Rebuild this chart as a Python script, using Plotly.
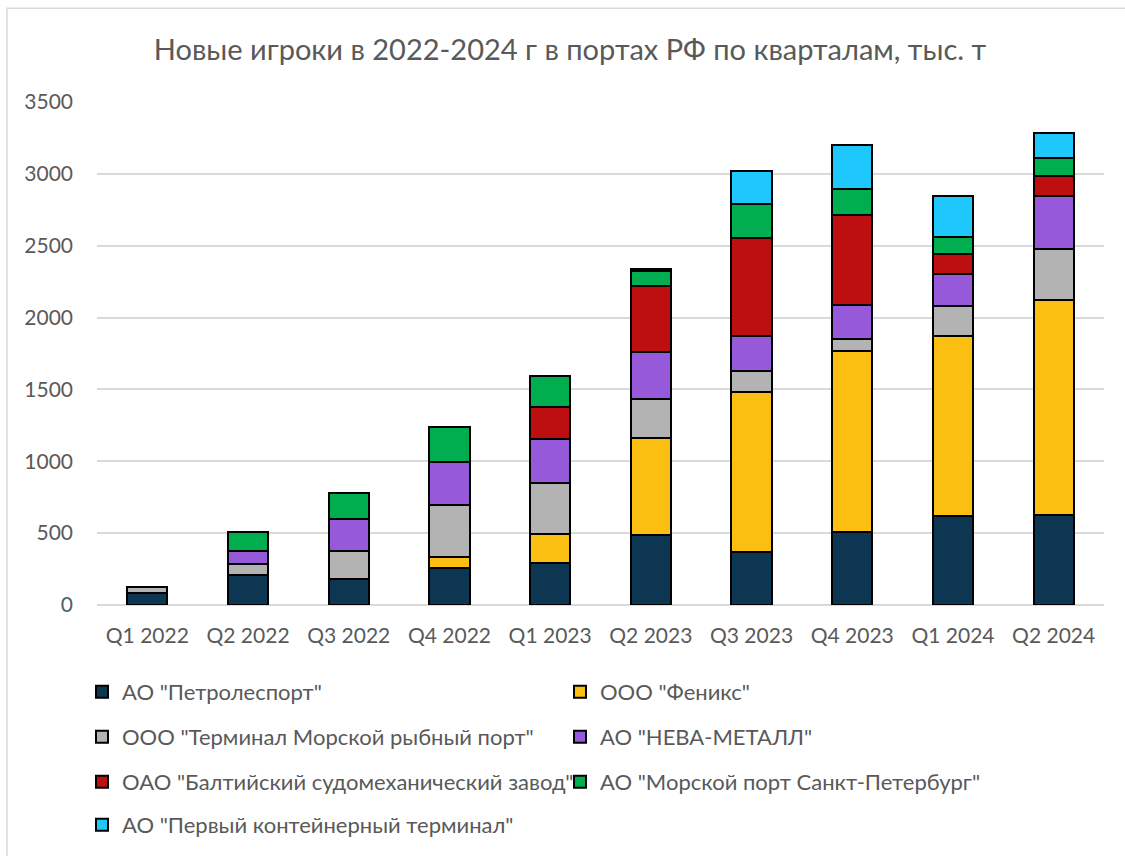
import plotly.graph_objects as go

categories = ["Q1 2022", "Q2 2022", "Q3 2022", "Q4 2022", "Q1 2023",
              "Q2 2023", "Q3 2023", "Q4 2023", "Q1 2024", "Q2 2024"]

petrolesport = [86, 209, 184, 256, 290, 487, 371, 509, 616, 625]
feniks = [None, None, None, 81, 204, 674, 1110, 1260, 1259, 1500]
terminal_mrp = [37, 75, 195, 356, 356, 269, 146, 81, 204, 354]
neva_metall = [None, 90, 219, 305, 302, 329, 247, 240, 224, 364]
baltiysky = [None, None, None, None, 227, 463, 679, 621, 141, 143]
morport_spb = [None, 133, 179, 242, 215, 104, 239, 187, 116, 125]
pervy_konteyner = [None, None, None, None, None, 10, 225, 306, 285, 171]

series_names = [
    'АО "Петролеспорт"',
    'ООО "Феникс"',
    'ООО "Терминал Морской рыбный порт"',
    'АО "НЕВА-МЕТАЛЛ"',
    'ОАО "Балтийский судомеханический завод"',
    'АО "Морской порт Санкт-Петербург"',
    'АО "Первый контейнерный терминал"',
]
series_values = [petrolesport, feniks, terminal_mrp, neva_metall,
                 baltiysky, morport_spb, pervy_konteyner]
colors = ["#0c3651", "#fbbf12", "#b3b3b3", "#9659d9", "#bd0f10", "#00ae50", "#1ec8fc"]
legend_ids = ["legend", "legend", "legend2", "legend2", "legend3", "legend3", "legend4"]

FONT = "Lato, 'Open Sans', sans-serif"
TXT = "#595959"

fig = go.Figure()
for name, vals, col, lg in zip(series_names, series_values, colors, legend_ids):
    fig.add_trace(go.Bar(
        x=categories, y=vals, name=name, legend=lg,
        marker=dict(color=col, line=dict(color="#000000", width=2)),
    ))

W, H = 1125, 856
L, R, T, B = 97, 21, 102, 250
pw, ph = W - L - R, H - T - B


def px_x(x):
    return (x - L) / pw


def px_y(y):
    return (H - B - y) / ph


legend_common = dict(
    orientation="h", xanchor="left", yanchor="middle", traceorder="normal",
    x=px_x(82), entrywidth=433, entrywidthmode="pixels",
    font=dict(family=FONT, size=22, color=TXT),
    bgcolor="rgba(0,0,0,0)", itemclick=False, itemdoubleclick=False,
)
row_y = [692, 737, 782, 825]

fig.update_layout(
    width=W, height=H,
    margin=dict(l=L, r=R, t=T, b=B, pad=0),
    paper_bgcolor="white", plot_bgcolor="white",
    barmode="stack", bargap=0.6,
    title=dict(
        text="Новые игроки в 2022-2024 г в портах РФ по кварталам, тыс. т",
        x=570 / W, xanchor="center", xref="container",
        y=1 - 50 / H, yanchor="middle", yref="container",
        font=dict(family=FONT, size=29, color=TXT),
    ),
    legend=dict(legend_common, y=px_y(row_y[0])),
    legend2=dict(legend_common, y=px_y(row_y[1])),
    legend3=dict(legend_common, y=px_y(row_y[2])),
    legend4=dict(legend_common, y=px_y(row_y[3])),
    xaxis=dict(
        showgrid=False, showline=False, zeroline=False,
        tickfont=dict(family=FONT, size=21, color=TXT),
        ticks="", ticklabelstandoff=16,
    ),
    yaxis=dict(
        range=[0, 3500], dtick=500, tick0=0,
        showgrid=True, gridcolor="#d9d9d9", gridwidth=1.5,
        zeroline=True, zerolinecolor="#d9d9d9", zerolinewidth=1.5,
        showline=False, ticks="",
        tickfont=dict(family=FONT, size=21, color=TXT),
        ticklabelstandoff=23,
    ),
    shapes=[dict(
        type="rect", xref="paper", yref="paper",
        x0=px_x(7), x1=px_x(1135), y0=px_y(870), y1=px_y(8),
        line=dict(color="#d9d9d9", width=1.5), fillcolor="rgba(0,0,0,0)",
        layer="below",
    )],
)

fig.write_html(
    "out.html",
    config={"displayModeBar": False},
    post_script="document.body.style.margin='0px';document.body.style.overflow='hidden';",
)
